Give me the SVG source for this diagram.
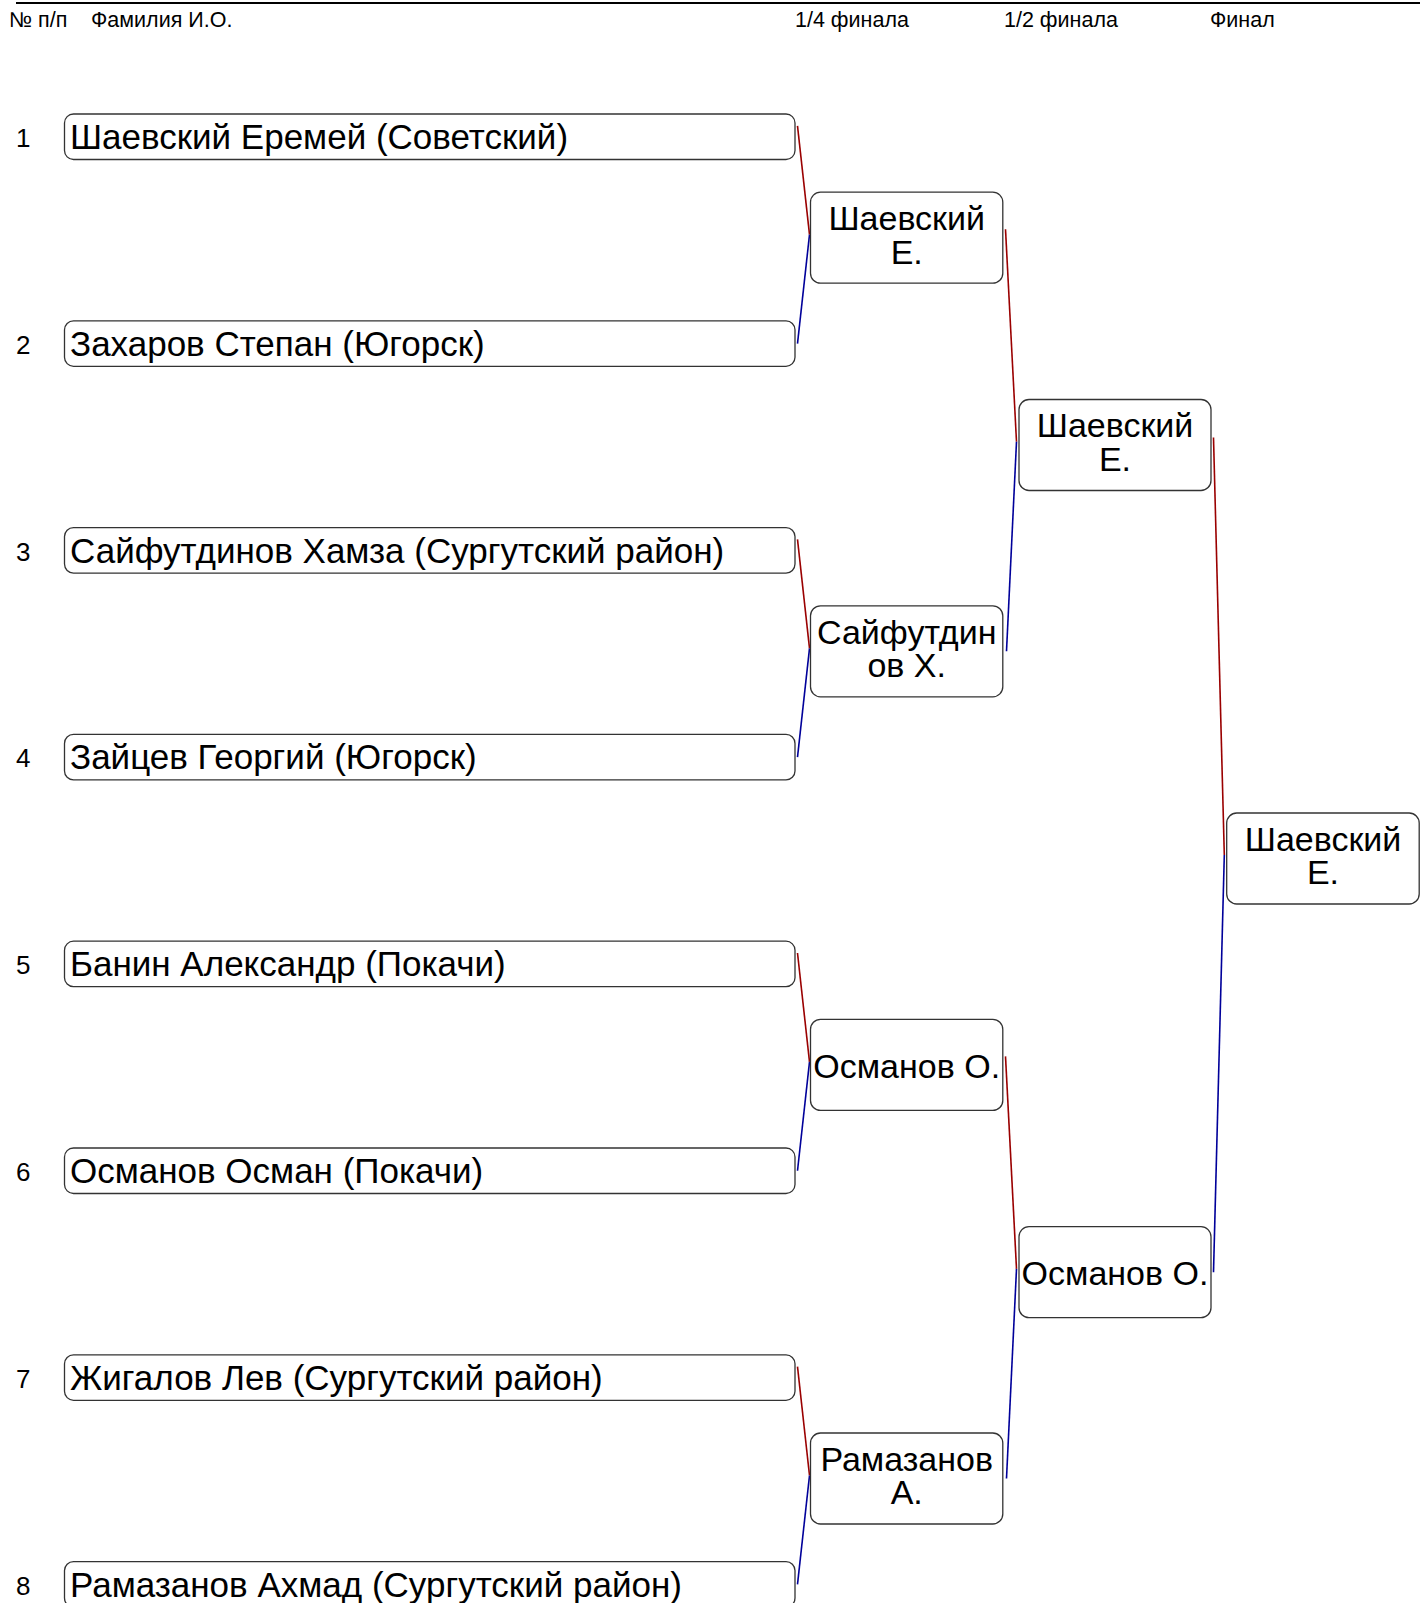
<svg xmlns="http://www.w3.org/2000/svg" width="1428" height="1603" viewBox="0 0 1428 1603">
<style>
text{font-family:"Liberation Sans",Arial,sans-serif;fill:#000}
.h{font-size:21.5px}
.n{font-size:26px}
.t{font-size:35px}
.c{font-size:34px;text-anchor:middle}
.box{fill:#fff;stroke:#333;stroke-width:1.3}
.r{stroke:#9a0000;stroke-width:1.6;fill:none}
.b{stroke:#00009a;stroke-width:1.6;fill:none}
</style>
<rect width="1428" height="1603" fill="#fff"/>
<g id="header">
<line x1="16" y1="3" x2="1420" y2="3" stroke="#000" stroke-width="2"/>
<text class="h" x="9" y="27">№ п/п</text>
<text class="h" x="91" y="27">Фамилия И.О.</text>
<text class="h" x="795" y="27">1/4 финала</text>
<text class="h" x="1004" y="27">1/2 финала</text>
<text class="h" x="1210" y="27">Финал</text>
</g>
<g id="connectors">
<path class="r" d="M797.5,125.8L809.5,234.7"/><path class="b" d="M809.5,234.7L797.5,343.55"/>
<path class="r" d="M797.5,539.4L809.5,648.3"/><path class="b" d="M809.5,648.3L797.5,757.15"/>
<path class="r" d="M797.5,953L809.5,1061.9"/><path class="b" d="M809.5,1061.9L797.5,1170.75"/>
<path class="r" d="M797.5,1366.6L809.5,1475.5"/><path class="b" d="M809.5,1475.5L797.5,1584.35"/>
<path class="r" d="M1005.5,229.2L1016.5,441.7"/><path class="b" d="M1016.5,441.7L1006.5,651.3"/>
<path class="r" d="M1005.5,1056.4L1016.5,1268.9"/><path class="b" d="M1016.5,1268.9L1006.5,1478.5"/>
<path class="r" d="M1213.5,437.5L1224.3,855"/><path class="b" d="M1224.3,855L1213.5,1272.2"/>
</g>
<g id="p1"><text class="n" x="16" y="147">1</text><rect class="box" x="64.5" y="114" width="730.5" height="45.5" rx="9"/><text class="t" x="70" y="149">Шаевский Еремей (Советский)</text></g>
<g id="p2"><text class="n" x="16" y="353.8">2</text><rect class="box" x="64.5" y="320.8" width="730.5" height="45.5" rx="9"/><text class="t" x="70" y="355.8">Захаров Степан (Югорск)</text></g>
<g id="p3"><text class="n" x="16" y="560.6">3</text><rect class="box" x="64.5" y="527.6" width="730.5" height="45.5" rx="9"/><text class="t" x="70" y="562.6">Сайфутдинов Хамза (Сургутский район)</text></g>
<g id="p4"><text class="n" x="16" y="767.4">4</text><rect class="box" x="64.5" y="734.4" width="730.5" height="45.5" rx="9"/><text class="t" x="70" y="769.4">Зайцев Георгий (Югорск)</text></g>
<g id="p5"><text class="n" x="16" y="974.2">5</text><rect class="box" x="64.5" y="941.2" width="730.5" height="45.5" rx="9"/><text class="t" x="70" y="976.2">Банин Александр (Покачи)</text></g>
<g id="p6"><text class="n" x="16" y="1181">6</text><rect class="box" x="64.5" y="1148" width="730.5" height="45.5" rx="9"/><text class="t" x="70" y="1183">Османов Осман (Покачи)</text></g>
<g id="p7"><text class="n" x="16" y="1387.8">7</text><rect class="box" x="64.5" y="1354.8" width="730.5" height="45.5" rx="9"/><text class="t" x="70" y="1389.8">Жигалов Лев (Сургутский район)</text></g>
<g id="p8"><text class="n" x="16" y="1594.6">8</text><rect class="box" x="64.5" y="1561.6" width="730.5" height="45.5" rx="9"/><text class="t" x="70" y="1596.6">Рамазанов Ахмад (Сургутский район)</text></g>
<g id="qf1"><rect class="box" x="810.5" y="192.2" width="192.3" height="91" rx="10"/><text class="c" x="906.7" y="230">Шаевский</text><text class="c" x="906.7" y="263.5">Е.</text></g>
<g id="qf2"><rect class="box" x="810.5" y="605.8" width="192.3" height="91" rx="10"/><text class="c" x="906.7" y="643.6">Сайфутдин</text><text class="c" x="906.7" y="677.1">ов Х.</text></g>
<g id="qf3"><rect class="box" x="810.5" y="1019.4" width="192.3" height="91" rx="10"/><text class="c" x="906.7" y="1077.9">Османов О.</text></g>
<g id="qf4"><rect class="box" x="810.5" y="1433" width="192.3" height="91" rx="10"/><text class="c" x="906.7" y="1470.8">Рамазанов</text><text class="c" x="906.7" y="1504.3">А.</text></g>
<g id="sf1"><rect class="box" x="1019" y="399.5" width="192" height="91" rx="10"/><text class="c" x="1115" y="437.3">Шаевский</text><text class="c" x="1115" y="470.8">Е.</text></g>
<g id="sf2"><rect class="box" x="1019" y="1226.7" width="192" height="91" rx="10"/><text class="c" x="1115" y="1285.2">Османов О.</text></g>
<g id="final"><rect class="box" x="1226.7" y="813" width="192.5" height="91" rx="10"/><text class="c" x="1323" y="850.8">Шаевский</text><text class="c" x="1323" y="884.3">Е.</text></g>
</svg>
